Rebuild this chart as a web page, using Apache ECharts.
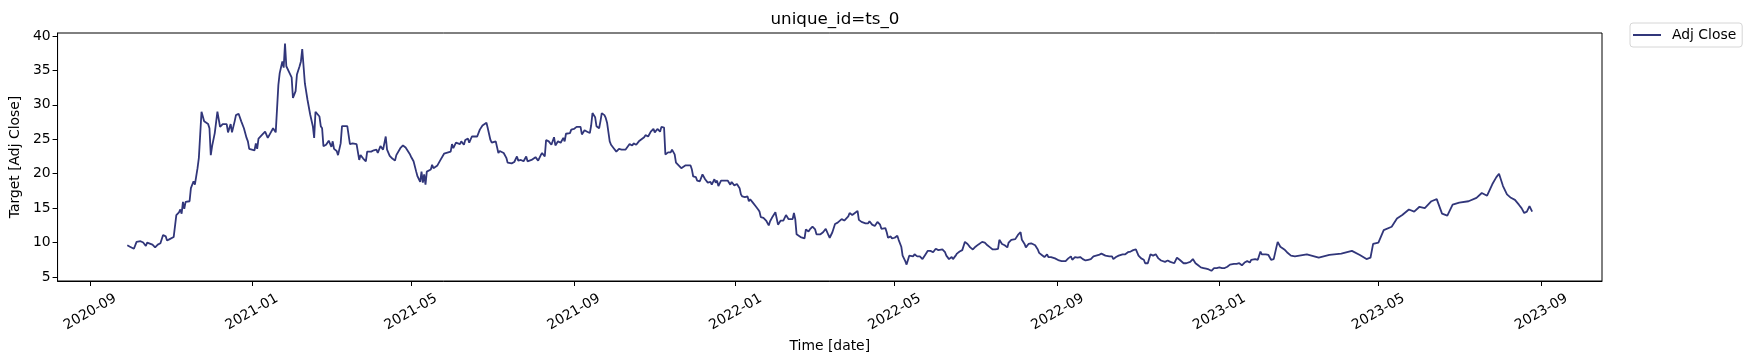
<!DOCTYPE html>
<html>
<head>
<meta charset="utf-8">
<script src="https://cdn.jsdelivr.net/npm/echarts@6/dist/echarts.min.js"></script>
<style>html,body{margin:0;padding:0;background:#fff}#c{width:1753px;height:361px}</style>
</head>
<body>
<div id="c"></div>
<script>
// days since 2020-09-01 (UTC)
const baseDate = '2020-09-01';
const dayOffsets = [
28,30,33,35,38,40,42,43,47,49,51,53,55,57,58,60,63,65,67,68,69,70,71,72,75,76,78,79,80,81,82,84,86,89,90,91,92,94,96,98,100,103,104,106,107,109,110,112,114,116,118,119,120,124,125,126,127,130,132,134,136,
138,140,142,143,145,146,147,148,150,152,153,155,156,158,159,160,162,164,166,168,169,170,173,174,175,176,178,180,182,183,184,186,187,189,190,194,195,196,198,201,203,204,206,208,209,212,214,216,217,219,221,223,224,226,228,230,231,234,236,238,241,
242,244,246,247,249,250,251,252,253,254,257,258,259,262,264,267,268,272,273,274,276,279,280,282,283,285,286,288,292,294,296,299,300,302,303,306,308,309,312,314,315,318,320,322,323,325,327,329,330,333,336,338,340,341,343,344,346,348,
349,350,351,353,355,357,358,359,362,363,365,367,370,371,373,375,377,378,379,381,382,384,385,386,388,389,390,392,393,394,395,397,399,401,404,405,407,409,410,412,414,415,418,419,421,423,425,426,428,430,431,433,434,436,438,439,441,442,444,446,447,449,453,454,455,457,458,460,
462,464,466,468,469,471,472,473,474,476,481,483,484,486,488,490,491,492,494,496,497,498,500,502,504,505,506,508,510,512,513,515,517,519,521,523,525,527,530,531,532,533,536,537,539,540,542,543,545,547,548,551,553,555,557,558,560,562,564,565,567,569,
572,573,575,577,579,580,582,585,587,588,590,592,593,594,596,597,600,601,602,604,605,607,609,610,612,613,615,616,618,619,621,622,624,626,628,630,632,634,636,637,638,640,643,645,646,648,650,651,653,654,656,658,659,660,662,664,666,668,670,673,675,
677,679,681,683,685,686,688,690,692,693,695,698,700,702,703,705,706,708,710,713,715,716,718,720,722,723,725,728,731,733,736,738,740,741,743,745,747,749,751,753,755,757,759,761,763,766,769,771,772,774,776,777,779,781,783,785,
787,789,791,793,795,796,798,800,802,804,806,808,811,813,815,818,820,822,825,827,830,832,834,836,838,840,842,844,846,848,850,852,854,856,858,860,863,865,867,869,871,873,875,876,877,879,881,883,884,887,889,891,893,895,896,898,901,903,906,909,
918,927,935,944,952,958,963,966,968,972,976,982,986,990,995,999,1003,1007,1012,1016,1020,1024,1028,1033,1040,1046,1050,1054,1058,1061,1063,1066,1069,1072,1075,1078,1080,1082,1084,1086,1088
];
const adjClose = [
9.6,9.4,9.1,10.1,10.2,10.0,9.5,10.0,9.7,9.3,9.7,9.9,11.1,10.9,10.3,10.5,10.8,14.0,14.4,14.8,14.2,15.9,14.9,15.9,16.0,17.9,18.9,18.4,19.6,20.8,22.3,29.0,27.6,27.2,26.6,22.7,24.0,25.9,29.0,26.8,27.2,27.2,26.0,27.2,26.0,27.6,28.5,28.7,27.6,26.6,25.2,24.7,23.6,23.4,24.4,23.6,25.1,25.7,26.1,25.2,25.9,
26.6,26.0,32.9,34.6,36.3,35.4,38.9,35.6,34.8,34.0,31.0,32.0,34.4,35.6,36.3,38.1,33.1,30.7,28.6,26.9,25.2,29.0,28.3,26.9,26.6,24.0,24.2,24.8,23.9,24.7,23.6,23.3,22.7,24.4,26.9,26.9,25.6,24.3,24.4,24.3,22.0,22.7,22.2,21.8,23.2,23.2,23.4,23.5,23.0,24.0,23.5,25.4,23.5,22.6,22.2,21.9,22.7,23.7,24.1,23.8,22.9,
22.5,21.8,20.3,19.6,18.8,20.3,18.7,19.9,18.4,20.3,20.6,21.3,20.8,21.2,21.9,22.9,23.1,23.2,24.3,23.7,24.5,24.3,24.7,24.2,24.9,25.1,24.5,25.4,25.4,26.4,27.0,27.4,26.6,24.9,24.5,24.7,23.0,23.3,23.0,22.3,21.6,21.5,21.7,22.5,21.9,22.0,21.8,22.5,21.8,22.0,22.4,21.9,22.7,23.0,22.5,24.9,24.7,24.2,
24.2,25.3,24.1,24.7,24.5,25.2,24.7,25.8,25.9,26.4,26.5,26.8,26.8,25.7,26.3,26.1,25.9,27.0,28.8,28.2,26.9,26.6,27.6,28.8,28.5,28.1,27.4,24.7,24.2,24.2,23.7,23.2,23.6,23.5,23.5,23.7,24.3,24.1,24.4,24.2,24.7,24.5,25.3,25.6,25.4,26.1,26.5,26.0,26.5,26.1,26.8,26.7,22.8,23.1,23.1,23.5,22.8,21.6,21.2,20.8,20.7,21.2,21.2,20.6,19.6,19.5,19.0,18.9,
19.9,19.2,18.7,18.8,18.4,19.2,18.7,19.0,18.2,19.0,19.0,18.4,18.8,18.3,18.5,17.9,17.0,16.7,16.6,16.7,16.0,16.3,15.8,15.3,14.8,14.5,13.7,13.6,13.2,12.5,13.1,13.8,14.4,12.6,13.2,13.2,14.0,13.4,13.4,14.3,13.4,11.2,10.8,10.7,10.6,11.9,11.6,11.9,12.3,11.9,11.2,11.2,11.5,12.0,11.1,10.7,11.5,12.7,12.9,12.8,13.4,13.2,
13.8,14.3,14.0,14.3,14.6,13.3,13.0,12.8,12.8,13.1,12.6,12.4,12.3,13.0,12.6,12.0,12.1,11.5,10.7,10.9,10.6,10.7,11.0,10.4,9.4,8.1,7.3,6.8,8.1,8.3,8.0,8.3,8.0,8.0,7.6,8.2,8.8,8.8,8.6,8.5,9.1,8.9,9.0,8.6,8.1,7.6,7.9,7.6,8.1,8.4,8.7,8.9,9.5,10.1,9.8,9.3,9.0,9.4,9.7,10.1,10.0,
9.6,9.3,9.0,9.0,9.1,10.4,9.8,9.6,9.3,10.0,10.4,10.5,11.1,11.5,10.4,9.8,9.3,9.8,9.9,9.6,9.0,8.5,8.2,7.9,8.3,7.9,7.9,7.7,7.4,7.3,7.3,7.7,8.0,7.5,7.9,7.8,7.9,7.6,7.4,7.5,7.6,8.0,8.1,8.2,8.4,8.1,8.0,8.0,7.6,7.9,8.1,8.0,8.3,8.3,8.6,8.7,
8.9,9.0,8.1,7.7,7.5,7.0,7.0,8.3,8.1,8.3,7.7,7.4,7.2,7.4,7.2,7.0,7.8,7.5,7.0,7.0,7.2,7.6,7.0,6.7,6.4,6.3,6.2,6.1,5.9,6.3,6.3,6.4,6.3,6.3,6.5,6.8,6.9,6.9,7.0,6.7,7.1,7.3,7.1,7.5,7.3,7.6,7.5,8.7,8.3,8.3,8.2,7.5,7.6,9.3,10.1,9.4,9.0,8.6,8.1,8.0,
8.3,7.8,8.2,8.4,8.8,8.2,7.6,7.8,9.8,10.0,11.8,12.3,13.5,14.0,14.8,14.5,15.2,15.0,16.0,16.3,14.2,13.9,15.5,15.8,16.0,16.5,17.2,16.8,18.5,19.5,20.0,18.2,17.0,16.5,16.2,15.5,15.0,14.3,14.5,15.3,14.5
];
const xTickDates = ['2020-09-01','2021-01-01','2021-05-01','2021-09-01','2022-01-01','2022-05-01','2022-09-01','2023-01-01','2023-05-01','2023-09-01'];
const yTicks = [5,10,15,20,25,30,35,40];

if (dayOffsets.length !== adjClose.length) {
  throw new Error('length mismatch ' + dayOffsets.length + ' vs ' + adjClose.length);
}

const DAY = 86400000;
const base = Date.parse(baseDate + 'T00:00:00Z');
const seriesData = dayOffsets.map((d, i) => [base + d * DAY, adjClose[i]]);
const xTickVals = xTickDates.map(s => Date.parse(s + 'T00:00:00Z'));
const fmtMonth = v => { const d = new Date(v); return d.getUTCFullYear() + '-' + String(d.getUTCMonth() + 1).padStart(2, '0'); };

const chart = echarts.init(document.getElementById('c'), null, {renderer: 'canvas'});
const font = 'DejaVu Sans';
chart.setOption({
  animation: false,
  backgroundColor: '#fff',
  textStyle: {fontFamily: font},
  title: {
    text: 'unique_id=ts_0', left: 830, top: 6, textAlign: 'center',
    textStyle: {fontFamily: font, fontSize: 16.7, fontWeight: 'normal', color: '#000'}
  },
  legend: {
    left: 1630, top: 23,
    data: [{name: 'Adj Close', icon: 'rect'}],
    itemWidth: 28, itemHeight: 2,
    padding: [5, 6, 5, 3],
    backgroundColor: '#fff', borderColor: '#d6d6d6', borderWidth: 1, borderRadius: 3,
    textStyle: {fontFamily: font, fontSize: 13.9, color: '#000', padding: [0, 0, 0, 6]}
  },
  grid: {
    left: 57, right: 151, top: 33, bottom: 80,
    show: true, borderColor: '#000', borderWidth: 1, backgroundColor: 'transparent'
  },
  xAxis: {
    type: 'value',
    min: base - 24.6 * DAY,
    max: base + 1140.7 * DAY,
    name: 'Time [date]', nameLocation: 'middle', nameGap: 58,
    nameTextStyle: {fontFamily: font, fontSize: 13.9, color: '#000'},
    axisLine: {show: true, onZero: false, lineStyle: {color: '#000', width: 1}},
    axisTick: {show: true, length: 5, lineStyle: {color: '#000'}, customValues: xTickVals},
    axisLabel: {
      customValues: xTickVals, rotate: 30, align: 'center', verticalAlign: 'middle',
      color: '#000', fontFamily: font, fontSize: 13.9, margin: 31,
      formatter: fmtMonth
    },
    splitLine: {show: false}
  },
  yAxis: {
    type: 'value', min: 4.42, max: 40.43,
    name: 'Target [Adj Close]', nameLocation: 'middle', nameGap: 35,
    nameTextStyle: {fontFamily: font, fontSize: 13.9, color: '#000'},
    axisLine: {show: true, onZero: false, lineStyle: {color: '#000', width: 1}},
    axisTick: {show: true, length: 5, lineStyle: {color: '#000'}, customValues: yTicks},
    axisLabel: {customValues: yTicks, color: '#000', fontFamily: font, fontSize: 13.9, margin: 7},
    splitLine: {show: false}
  },
  series: [{
    name: 'Adj Close', type: 'line', data: seriesData,
    showSymbol: false, symbol: 'none',
    lineStyle: {color: '#31367a', width: 1.8},
    itemStyle: {color: '#31367a'}
  }]
});
</script>
</body>
</html>
